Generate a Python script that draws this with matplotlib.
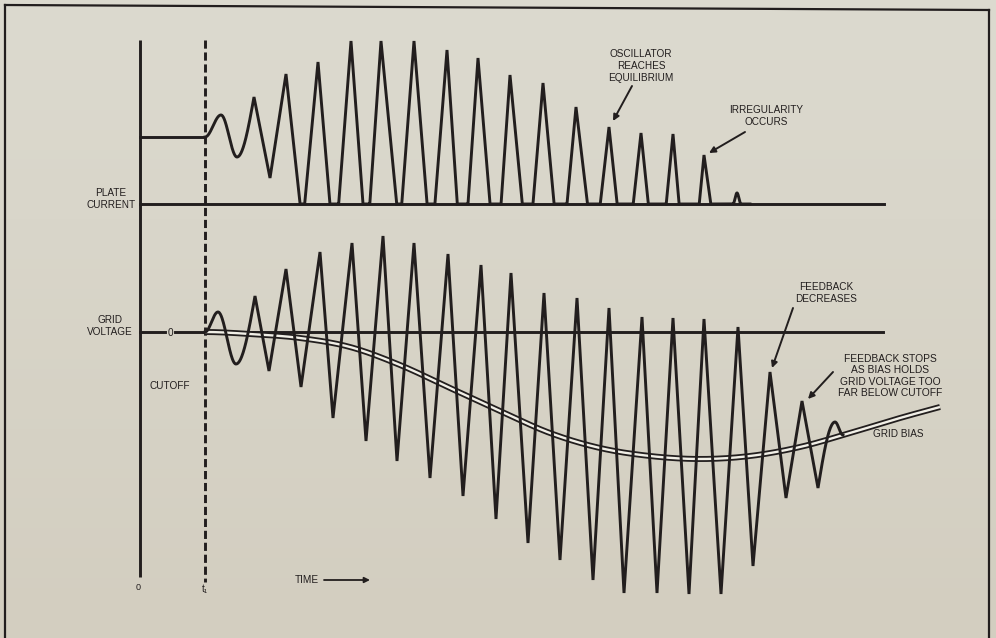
import numpy as np
import matplotlib
matplotlib.use("Agg")
import matplotlib.pyplot as plt

# ---------------- data ----------------
# Plate current: turning points (time, height above the cut-off baseline).
# Negative heights are where the tube is cut off; the drawn trace is clipped at 0.
plate_time = [205, 221, 237, 254, 270, 286, 302.5, 318, 334.5, 351, 366.5, 381,
              399.5, 414, 431, 447, 462.5, 478, 496, 510, 528, 543, 560.5, 576,
              594, 609, 625, 641, 657.5, 673, 688.5, 704, 722.5, 733, 737, 741, 750]
plate_level = [67, 89, 47, 107, 26, 130, -23, 142, -55, 163, -48, 163,
               -30, 163, -50, 154, -80, 146, -73, 129, -60, 121, -70, 97,
               -55, 77, -75, 71, -90, 70, -110, 49, -85, 0, 11, 0, 0]

# Grid voltage: turning points (time, voltage relative to 0)
grid_time = [205, 218, 236, 255, 269, 286, 301, 320, 333, 352, 366, 383, 397,
             414, 430, 448, 463, 481, 496, 511, 528, 544, 560, 577, 593, 609,
             624, 642, 657, 673, 689, 704, 721, 738, 753, 770, 786, 802, 818,
             835, 843]
grid_volts = [0, 20, -32, 36, -39, 63, -55, 80, -86, 89, -109, 96, -129,
              89, -146, 78, -164, 67, -187, 59, -211, 39, -228, 34, -248, 24,
              -261, 15, -261, 14, -262, 13, -262, 5, -234, -40, -166, -69, -156,
              -90, -103]

# Grid bias (self-bias building up from the grid current)
bias_time = [205, 250, 300, 350, 400, 450, 500, 550, 600, 650, 700, 750, 800, 850, 900, 940]
bias_volts = [0, -2, -6, -15, -33, -56, -79, -101, -116, -124, -127, -124, -115, -101, -86, -75]

# ---------------- layout (drawing units, y grows downward) ----------------
W, H = 996, 638
INK = "#221e1e"
PLATE_BASE = 204     # cut-off line of the plate-current trace
GRID_ZERO = 332      # zero line of the grid-voltage trace
T_AXIS = 140         # time origin
T1 = 205             # t1
X_END = 884
FONT = ["Liberation Sans", "DejaVu Sans"]


def ease(u, mode):
    if mode == "cos":
        return (1 - np.cos(np.pi * u)) / 2
    if mode == "in":
        return 1 - np.cos(np.pi * u / 2)
    if mode == "out":
        return np.sin(np.pi * u / 2)
    return u


def trace(t, v, modes, n=40):
    """Join turning points; straight by default, eased where listed."""
    t = np.asarray(t, float)
    v = np.asarray(v, float)
    nseg = len(t) - 1
    xs, ys = [], []
    for i in range(nseg):
        mode = modes.get(i, modes.get(i - nseg, "lin"))
        u = np.linspace(0, 1, n, endpoint=(i == nseg - 1))
        s = ease(u, mode)
        xs.append(t[i] + (t[i + 1] - t[i]) * u)
        ys.append(v[i] + (v[i + 1] - v[i]) * s)
    return np.concatenate(xs), np.concatenate(ys)


def smooth_curve(t, v, n=600):
    """Cubic Hermite through the points, flat at the start."""
    t = np.asarray(t, float)
    v = np.asarray(v, float)
    m = np.zeros_like(v)
    m[1:-1] = (v[2:] - v[:-2]) / (t[2:] - t[:-2])
    m[0] = 0.0
    m[-1] = (v[-1] - v[-2]) / (t[-1] - t[-2])
    xs = np.linspace(t[0], t[-1], n)
    k = np.clip(np.searchsorted(t, xs) - 1, 0, len(t) - 2)
    h = t[k + 1] - t[k]
    s = (xs - t[k]) / h
    h00 = 2 * s**3 - 3 * s**2 + 1
    h10 = s**3 - 2 * s**2 + s
    h01 = -2 * s**3 + 3 * s**2
    h11 = s**3 - s**2
    ys = h00 * v[k] + h10 * h * m[k] + h01 * v[k + 1] + h11 * h * m[k + 1]
    return xs, ys


fig = plt.figure(figsize=(W / 100, H / 100), dpi=100)
ax = fig.add_axes([0, 0, 1, 1])
ax.set_xlim(0, W)
ax.set_ylim(H, 0)
ax.axis("off")

# paper
grad = np.linspace(0, 1, 64)[:, None]
top = np.array([220, 218, 207]) / 255
bot = np.array([211, 206, 192]) / 255
img = top[None, None, :] * (1 - grad[..., None]) + bot[None, None, :] * grad[..., None]
ax.imshow(img, extent=[0, W, H, 0], aspect="auto", zorder=0)

# outer frame
ax.plot([5, 5], [H, 5], color=INK, lw=1.6, zorder=1)
ax.plot([5, 989], [5, 10], color=INK, lw=1.6, zorder=1)
ax.plot([989, 989], [10, H], color=INK, lw=1.6, zorder=1)

LW = 2.1

# axes of the diagram
ax.plot([T_AXIS, T_AXIS], [40, 577], color=INK, lw=LW, zorder=3,
        solid_capstyle="butt")
ax.plot([T1, T1], [40, 582], color=INK, lw=LW, zorder=3, ls=(0, (2.8, 1.3)))

# plate-current baseline and zero line of the grid
ax.plot([T_AXIS, X_END], [PLATE_BASE, PLATE_BASE], color=INK, lw=LW, zorder=3)
ax.plot([T_AXIS, 165], [GRID_ZERO, GRID_ZERO], color=INK, lw=LW, zorder=3)
ax.plot([175, X_END - 1], [GRID_ZERO, GRID_ZERO], color=INK, lw=LW, zorder=3)

# quiescent plate current before t1
ax.plot([T_AXIS, T1], [PLATE_BASE - plate_level[0]] * 2, color=INK, lw=LW, zorder=3)

# grid bias: double line
bx, by = smooth_curve(bias_time, bias_volts)
ax.plot(bx, GRID_ZERO - by, color=INK, lw=4.3, zorder=4, solid_capstyle="butt")
ax.plot(bx, GRID_ZERO - by, color="#f1efe7", lw=1.7, zorder=5, solid_capstyle="butt")

# grid voltage
gx, gy = trace(grid_time, grid_volts, {0: "cos", 1: "cos", 2: "in", -2: "out", -1: "cos"})
ax.plot(gx, GRID_ZERO - gy, color=INK, lw=LW, zorder=6, solid_joinstyle="miter")

# plate current, clipped at cut-off
px, py = trace(plate_time, plate_level, {0: "cos", 1: "cos", 2: "in", -3: "cos", -2: "cos"},
               n=200)
py = np.maximum(py, 0)
ax.plot(px, PLATE_BASE - py, color=INK, lw=LW, zorder=6, solid_joinstyle="miter")

# ---------------- text ----------------
fs = 7.2
kw = dict(color=INK, family=FONT, fontsize=fs, linespacing=1.2, zorder=8)

ax.text(111, 199, "PLATE\nCURRENT", ha="center", va="center", **kw)
ax.text(110, 326, "GRID\nVOLTAGE", ha="center", va="center", **kw)
ax.text(170, 333, "0", ha="center", va="center", **kw)
ax.text(170, 386, "CUTOFF", ha="center", va="center", **kw)
ax.text(138, 588, "0", ha="center", va="center", color=INK, family=FONT, fontsize=6.5)
ax.text(205, 589, "t\u2081", ha="center", va="center", color=INK, family=FONT, fontsize=7)
ax.text(319, 580, "TIME", ha="right", va="center", **kw)
ax.annotate("", xy=(370, 580), xytext=(324, 580),
            arrowprops=dict(arrowstyle="-|>", color=INK, lw=1.3, mutation_scale=8,
                            shrinkA=0, shrinkB=0), zorder=8)

ax.text(641, 66, "OSCILLATOR\nREACHES\nEQUILIBRIUM", ha="center", va="center", **kw)
ax.text(766, 116, "IRREGULARITY\nOCCURS", ha="center", va="center", **kw)
ax.text(826, 293, "FEEDBACK\nDECREASES", ha="center", va="center", **kw)
ax.text(890, 376, "FEEDBACK STOPS\nAS BIAS HOLDS\nGRID VOLTAGE TOO\nFAR BELOW CUTOFF",
        ha="center", va="center", color=INK, family=FONT, fontsize=7.4,
        linespacing=1.15, zorder=8)
ax.text(873, 434, "GRID BIAS", ha="left", va="center", **kw)

arrows = [((632, 86), (613, 121)),
          ((745, 132), (709, 153)),
          ((793, 308), (772, 368)),
          ((833, 372), (808, 399))]
for tail, tip in arrows:
    ax.annotate("", xy=tip, xytext=tail,
                arrowprops=dict(arrowstyle="-|>", color=INK, lw=1.4, mutation_scale=9,
                                shrinkA=0, shrinkB=0), zorder=8)

fig.savefig("out.png", dpi=100)
